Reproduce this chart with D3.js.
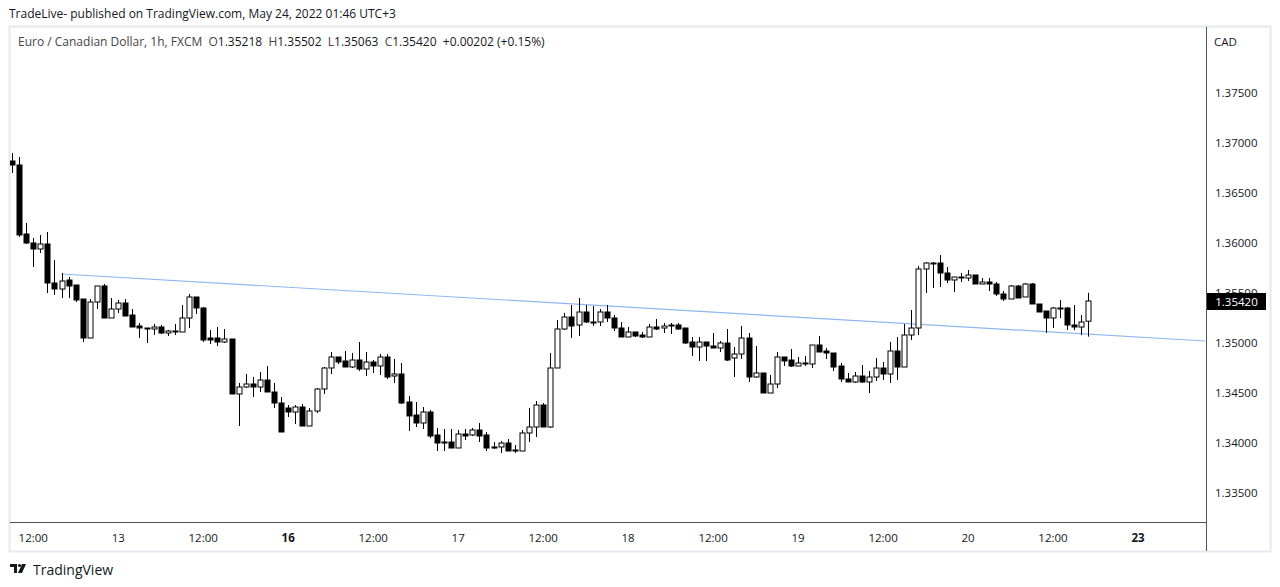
<!DOCTYPE html>
<html><head><meta charset="utf-8">
<script src="https://cdn.jsdelivr.net/npm/d3@7/dist/d3.min.js"></script>
<style>body{margin:0;background:#fff}svg{display:block;font-family:"Open Sans",sans-serif}</style>
</head><body><svg id="c" width="1280" height="587"></svg>
<script>
// [open, high, low, close]
const candles = [
[1.3682,1.3690,1.3670,1.3678],[1.3678,1.3686,1.3606,1.3608],[1.3609,1.3620,1.3599,1.3600],[1.3600,1.3605,1.3576,1.3594],
[1.3594,1.3608,1.3590,1.3599],[1.3599,1.3611,1.3550,1.3560],[1.3560,1.3583,1.3548,1.3554],[1.3554,1.3570,1.3545,1.3562],
[1.3563,1.3566,1.3545,1.3557],[1.3558,1.3558,1.3541,1.3543],[1.3544,1.3544,1.3501,1.3505],[1.3505,1.3544,1.3505,1.3541],
[1.3541,1.3557,1.3534,1.3557],[1.3557,1.3559,1.3525,1.3525],[1.3525,1.3545,1.3525,1.3534],[1.3534,1.3543,1.3530,1.3540],
[1.3540,1.3544,1.3527,1.3527],[1.3528,1.3534,1.3516,1.3516],[1.3517,1.3520,1.3505,1.3515],[1.3515,1.3515,1.3500,1.3514],
[1.3514,1.3519,1.3508,1.3516],[1.3516,1.3518,1.3509,1.3510],[1.3510,1.3513,1.3507,1.3512],[1.3512,1.3519,1.3508,1.3512],
[1.3511,1.3538,1.3511,1.3525],[1.3525,1.3549,1.3515,1.3546],[1.3546,1.3546,1.3529,1.3535],[1.3535,1.3536,1.3501,1.3503],
[1.3505,1.3513,1.3499,1.3503],[1.3505,1.3516,1.3497,1.3501],[1.3501,1.3514,1.3500,1.3504],[1.3504,1.3504,1.3449,1.3449],
[1.3449,1.3460,1.3417,1.3456],[1.3456,1.3469,1.3455,1.3459],[1.3459,1.3466,1.3446,1.3456],[1.3456,1.3471,1.3451,1.3463],
[1.3463,1.3477,1.3451,1.3451],[1.3451,1.3460,1.3435,1.3440],[1.3440,1.3446,1.3411,1.3411],[1.3435,1.3438,1.3426,1.3431],
[1.3431,1.3438,1.3419,1.3436],[1.3436,1.3439,1.3417,1.3417],[1.3417,1.3435,1.3417,1.3432],[1.3432,1.3455,1.3430,1.3454],
[1.3454,1.3476,1.3449,1.3475],[1.3475,1.3491,1.3469,1.3486],[1.3486,1.3486,1.3479,1.3481],[1.3482,1.3492,1.3476,1.3476],
[1.3476,1.3490,1.3475,1.3483],[1.3483,1.3501,1.3472,1.3474],[1.3474,1.3491,1.3467,1.3481],[1.3481,1.3483,1.3470,1.3477],
[1.3477,1.3489,1.3468,1.3486],[1.3486,1.3489,1.3464,1.3466],[1.3467,1.3484,1.3460,1.3469],[1.3469,1.3480,1.3439,1.3440],
[1.3441,1.3447,1.3412,1.3427],[1.3428,1.3441,1.3416,1.3420],[1.3420,1.3436,1.3414,1.3431],[1.3431,1.3433,1.3405,1.3407],
[1.3408,1.3415,1.3392,1.3400],[1.3401,1.3414,1.3392,1.3400],[1.3401,1.3414,1.3395,1.3395],[1.3395,1.3413,1.3395,1.3409],
[1.3409,1.3414,1.3403,1.3407],[1.3408,1.3415,1.3407,1.3413],[1.3413,1.3420,1.3401,1.3407],[1.3408,1.3411,1.3392,1.3395],
[1.3396,1.3401,1.3394,1.3395],[1.3396,1.3402,1.3390,1.3400],[1.3400,1.3404,1.3392,1.3392],[1.3393,1.3398,1.3390,1.3392],
[1.3392,1.3413,1.3392,1.3410],[1.3410,1.3435,1.3401,1.3416],[1.3416,1.3442,1.3406,1.3438],[1.3438,1.3440,1.3416,1.3416],
[1.3416,1.3490,1.3415,1.3475],[1.3475,1.3523,1.3475,1.3514],[1.3514,1.3530,1.3513,1.3526],[1.3526,1.3538,1.3505,1.3517],
[1.3518,1.3545,1.3507,1.3531],[1.3531,1.3538,1.3520,1.3521],[1.3521,1.3537,1.3517,1.3521],[1.3521,1.3534,1.3517,1.3531],
[1.3531,1.3538,1.3521,1.3525],[1.3525,1.3528,1.3512,1.3515],[1.3515,1.3521,1.3506,1.3506],[1.3506,1.3516,1.3506,1.3511],
[1.3511,1.3511,1.3506,1.3507],[1.3508,1.3511,1.3505,1.3506],[1.3506,1.3519,1.3506,1.3516],[1.3516,1.3524,1.3513,1.3514],
[1.3515,1.3520,1.3510,1.3517],[1.3518,1.3520,1.3509,1.3517],[1.3518,1.3520,1.3513,1.3514],[1.3515,1.3515,1.3499,1.3500],
[1.3501,1.3506,1.3487,1.3496],[1.3496,1.3506,1.3482,1.3501],[1.3501,1.3501,1.3482,1.3497],[1.3497,1.3510,1.3495,1.3495],
[1.3495,1.3502,1.3491,1.3500],[1.3500,1.3514,1.3482,1.3483],[1.3485,1.3496,1.3466,1.3489],[1.3489,1.3517,1.3484,1.3505],
[1.3505,1.3510,1.3461,1.3466],[1.3466,1.3497,1.3465,1.3470],[1.3470,1.3470,1.3450,1.3450],[1.3450,1.3468,1.3450,1.3459],
[1.3459,1.3491,1.3455,1.3486],[1.3486,1.3486,1.3477,1.3482],[1.3483,1.3494,1.3476,1.3477],[1.3477,1.3486,1.3477,1.3480],
[1.3480,1.3487,1.3477,1.3479],[1.3479,1.3498,1.3475,1.3498],[1.3498,1.3507,1.3491,1.3491],[1.3492,1.3495,1.3484,1.3490],
[1.3490,1.3490,1.3472,1.3476],[1.3477,1.3480,1.3461,1.3464],[1.3464,1.3470,1.3461,1.3461],[1.3461,1.3471,1.3460,1.3467],
[1.3467,1.3478,1.3460,1.3461],[1.3461,1.3472,1.3450,1.3466],[1.3466,1.3485,1.3462,1.3475],[1.3475,1.3481,1.3463,1.3469],
[1.3469,1.3501,1.3460,1.3492],[1.3492,1.3506,1.3463,1.3476],[1.3476,1.3519,1.3476,1.3508],[1.3508,1.3533,1.3503,1.3515],
[1.3515,1.3577,1.3508,1.3574],[1.3574,1.3581,1.3550,1.3580],[1.3580,1.3581,1.3555,1.3580],[1.3580,1.3588,1.3556,1.3570],
[1.3570,1.3576,1.3560,1.3563],[1.3563,1.3566,1.3551,1.3566],[1.3566,1.3570,1.3561,1.3565],[1.3565,1.3573,1.3562,1.3568],
[1.3568,1.3568,1.3559,1.3559],[1.3559,1.3565,1.3559,1.3561],[1.3561,1.3565,1.3552,1.3559],[1.3559,1.3561,1.3547,1.3549],
[1.3549,1.3552,1.3542,1.3544],[1.3544,1.3558,1.3544,1.3557],[1.3557,1.3558,1.3545,1.3545],[1.3546,1.3560,1.3546,1.3559],
[1.3559,1.3560,1.3539,1.3539],[1.3539,1.3539,1.3531,1.3531],[1.3532,1.3532,1.3510,1.3525],[1.3525,1.3536,1.3515,1.3535],
[1.3535,1.3543,1.3525,1.3535],[1.3535,1.3536,1.3513,1.3518],[1.3518,1.3538,1.3513,1.3516],[1.3516,1.3528,1.3508,1.3521],
[1.35218,1.35502,1.35063,1.35420]
];
const timeTicks = [[3,"12:00",false],[15,"13",false],[27,"12:00",false],[39,"16",true],[51,"12:00",false],[63,"17",false],
[75,"12:00",false],[87,"18",false],[99,"12:00",false],[111,"19",false],[123,"12:00",false],[135,"20",false],[147,"12:00",false],[159,"23",true]];
const priceTicks = [1.335,1.340,1.345,1.350,1.355,1.360,1.365,1.370,1.375];
const trendLine = [[7,1.3569],[168.5,1.3502]];
const lastPrice = 1.35420;

const svg = d3.select("#c");
const x = d3.scaleLinear().domain([0,159]).range([12,1138]);
const y = d3.scaleLinear().domain([1.335,1.375]).range([493,93]);
const axisCol = "#50535e", txtCol = "#131722";

svg.append("rect").attr("x",9.5).attr("y",26.5).attr("width",1261).attr("height",525)
  .attr("fill","#fff").attr("stroke","#e6e8ee").attr("stroke-width",2);
svg.append("text").attr("x",9).attr("y",18).attr("font-size",12).attr("fill","#131722")
  .text("TradeLive- published on TradingView.com, May 24, 2022 01:46 UTC+3");

svg.append("clipPath").attr("id","pc").append("rect").attr("x",10).attr("y",27).attr("width",1196).attr("height",496);
const g = svg.append("g").attr("clip-path","url(#pc)");

g.append("path").datum(trendLine).attr("fill","none").attr("stroke","#8fb8f2").attr("stroke-width",1.2)
  .attr("d",d3.line().x(d=>x(d[0])).y(d=>y(d[1])));

const cg = g.selectAll("g.c").data(candles).join("g");
cg.append("line").attr("x1",(d,i)=>Math.round(x(i))+0.5).attr("x2",(d,i)=>Math.round(x(i))+0.5)
  .attr("y1",d=>y(d[1])).attr("y2",d=>y(d[2])).attr("stroke","#000").attr("stroke-width",1);
cg.append("rect").attr("x",(d,i)=>Math.round(x(i))-2)
  .attr("y",d=>y(Math.max(d[0],d[3])))
  .attr("width",5).attr("height",d=>Math.max(1,Math.abs(y(d[0])-y(d[3]))))
  .attr("fill",d=>d[3]>=d[0]?"#fff":"#000").attr("stroke","#000").attr("stroke-width",1);

// legend
const leg = svg.append("text").attr("x",18).attr("y",46).attr("font-size",12).attr("fill","#444")
  .style("white-space","pre").attr("xml:space","preserve");
leg.append("tspan").text("Euro / Canadian Dollar, 1h, FXCM  O");
leg.append("tspan").attr("fill",txtCol).text("1.35218");
leg.append("tspan").text("  H");
leg.append("tspan").attr("fill",txtCol).text("1.35502");
leg.append("tspan").text("  L");
leg.append("tspan").attr("fill",txtCol).text("1.35063");
leg.append("tspan").text("  C");
leg.append("tspan").attr("fill",txtCol).text("1.35420");
leg.append("tspan").attr("fill",txtCol).text("  +0.00202 (+0.15%)");

// axes lines
svg.append("line").attr("x1",1206.5).attr("x2",1206.5).attr("y1",27).attr("y2",551).attr("stroke",axisCol);
svg.append("line").attr("x1",10).attr("x2",1206).attr("y1",522.5).attr("y2",522.5).attr("stroke",axisCol);

svg.append("text").attr("x",1214).attr("y",46).attr("font-size",11.5).attr("fill",txtCol).text("CAD");
svg.selectAll("text.p").data(priceTicks).join("text").attr("x",1215).attr("y",d=>y(d)+4)
  .attr("font-size",11.5).attr("fill",txtCol).text(d=>d.toFixed(5));

svg.append("rect").attr("x",1207).attr("y",y(lastPrice)-8).attr("width",59).attr("height",17).attr("fill","#000");
svg.append("text").attr("x",1236.5).attr("y",y(lastPrice)+4.5).attr("text-anchor","middle").attr("font-size",11.5)
  .attr("fill","#fff").text(lastPrice.toFixed(5));

svg.selectAll("text.t").data(timeTicks).join("text").attr("x",d=>x(d[0])).attr("y",542)
  .attr("text-anchor","middle").attr("font-size",11.5).attr("font-weight",d=>d[2]?"bold":"normal")
  .attr("fill",txtCol).text(d=>d[1]);

// footer logo
const lg = svg.append("g").attr("transform","translate(10,564)");
lg.append("path").attr("d","M0 0H7V9H4V3H0Z").attr("fill","#131722");
lg.append("circle").attr("cx",9.5).attr("cy",1.5).attr("r",1.6).attr("fill","#131722");
lg.append("path").attr("d","M12 0H16L12 9H8Z").attr("fill","#131722");
svg.append("text").attr("x",33).attr("y",575).attr("font-size",14).attr("fill","#131722").text("TradingView");
</script></body></html>
